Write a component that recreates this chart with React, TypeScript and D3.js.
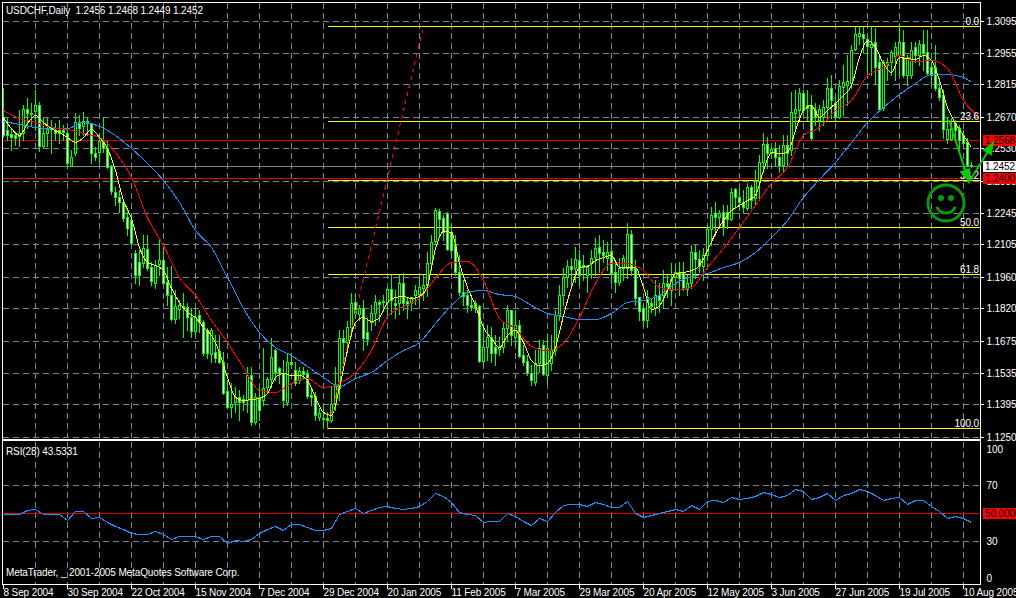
import * as d3 from "d3";
import { FC, useEffect, useRef } from "react";

// USDCHF daily, values in points (1.2456 = 12456)
const opens = [
  12669,12612,12594,12589,12585,12598,12705,12683,12696,12722,
  12541,12598,12621,12612,12612,12612,12598,12452,12510,12647,
  12629,12651,12643,12510,12514,12563,12532,12452,12337,12314,
  12292,12226,12212,12066,12026,12022,12084,12004,11933,12017,
  12035,11937,11880,11773,11818,11831,11826,11782,11720,11791,
  11760,11725,11618,11627,11631,11583,11454,11383,11405,11427,
  11418,11414,11525,11317,11427,11414,11472,11507,11636,11556,
  11534,11405,11583,11547,11503,11543,11534,11436,11432,11339,
  11334,11334,11326,11396,11467,11689,11671,11738,11849,11795,
  11822,11716,11760,11800,11849,11849,11849,11906,11844,11844,
  11933,11853,11844,11880,11884,11911,11924,12022,12119,12252,
  12221,12243,12159,12101,11982,11893,11880,11835,11826,11831,
  11587,11649,11693,11649,11640,11649,11733,11813,11693,11747,
  11614,11587,11534,11494,11578,11658,11525,11578,11636,11791,
  11880,11960,12008,11999,12035,12013,11968,12022,12048,12093,
  12070,12044,12075,11982,11937,11999,11999,12150,11999,11871,
  11822,11769,11844,11822,11880,11880,11933,11902,11960,11982,
  11982,11906,11933,12070,12039,12008,12057,12172,12243,12226,
  12248,12248,12217,12350,12314,12292,12266,12359,12310,12385,
  12470,12550,12510,12532,12492,12456,12545,12523,12687,12700,
  12776,12722,12722,12700,12656,12669,12714,12798,12731,12669,
  12802,12811,12820,12971,13028,13037,13015,12980,13002,12913,
  12709,12913,12913,12940,12944,13002,12855,12855,12980,12944,
  12993,12958,12891,12891,12798,12767,12572,12572,12643,12621,
  12589,12558,12456,
];
const closes = [
  12589,12589,12581,12576,12598,12705,12687,12687,12722,12541,
  12598,12616,12616,12598,12598,12603,12465,12492,12647,12621,
  12651,12643,12510,12492,12563,12532,12448,12341,12314,12292,
  12221,12177,12111,11968,11968,12088,12000,11942,12013,12035,
  11933,11880,11773,11831,11835,11826,11782,11720,11782,11760,
  11623,11623,11725,11600,11583,11445,11383,11396,11427,11405,
  11405,11525,11317,11427,11370,11467,11507,11605,11538,11534,
  11414,11583,11574,11490,11543,11530,11432,11427,11347,11356,
  11330,11326,11396,11476,11689,11671,11738,11844,11800,11822,
  11689,11684,11800,11849,11840,11853,11906,11858,11835,11933,
  11844,11835,11871,11902,11915,11924,12022,12115,12257,12217,
  12159,12084,12079,11982,11893,11875,11835,11826,11844,11587,
  11649,11693,11622,11622,11649,11733,11813,11702,11747,11609,
  11583,11534,11503,11578,11645,11529,11645,11636,11791,11880,
  11960,12008,11995,12039,11968,12004,12004,12044,12088,12066,
  12057,12070,11977,11937,11999,12044,12150,11991,11866,11809,
  11769,11871,11831,11880,11858,11933,11920,11951,11982,11955,
  11911,11933,12070,12039,12008,12057,12172,12235,12226,12243,
  12181,12217,12337,12314,12292,12270,12359,12301,12385,12470,
  12550,12510,12527,12492,12456,12545,12510,12691,12705,12776,
  12700,12709,12576,12669,12705,12714,12798,12745,12669,12807,
  12824,12829,12966,13037,13042,13020,12984,12993,12891,12705,
  12913,12900,12958,12980,13002,12855,12935,12966,12944,12993,
  12953,12864,12855,12798,12758,12616,12616,12621,12612,12567,
  12554,12456,12452,
];
const highs = [
  12798,12665,12621,12603,12700,12722,12754,12731,12789,12736,
  12665,12665,12656,12643,12656,12634,12625,12523,12687,12678,
  12691,12669,12643,12536,12589,12669,12563,12456,12359,12346,
  12301,12248,12239,12079,12079,12146,12146,12026,12035,12124,
  12088,12004,12008,11902,11858,11889,11844,11822,11822,11813,
  11769,11734,11734,11702,11702,11627,11503,11490,11472,11459,
  11436,11560,11560,11445,11472,11645,11516,11689,11640,11560,
  11592,11623,11623,11583,11560,11560,11547,11472,11450,11379,
  11392,11361,11472,11560,11725,11725,11764,11889,11889,11835,
  11858,11778,11835,11880,11858,11880,11915,11968,11902,11968,
  11977,11866,11871,11924,11955,11968,12070,12146,12266,12261,
  12235,12248,12190,12146,12057,11946,11902,11880,11858,11835,
  11747,11747,11738,11702,11694,11764,11835,11813,11813,11769,
  11658,11614,11569,11636,11680,11680,11702,11702,11813,11924,
  11999,12035,12044,12093,12079,12057,12013,12079,12133,12146,
  12124,12115,12124,12026,12044,12057,12199,12168,12035,11871,
  11835,11902,11866,11946,11933,11991,11968,12022,12013,12026,
  12026,11968,12101,12101,12079,12088,12190,12270,12292,12257,
  12279,12279,12355,12355,12355,12345,12377,12368,12434,12501,
  12598,12581,12536,12558,12545,12589,12589,12780,12789,12798,
  12789,12789,12767,12731,12722,12745,12842,12855,12767,12833,
  12900,12944,12989,13068,13068,13073,13033,13073,13064,12944,
  12922,12931,12966,13002,13082,13055,12944,13002,13002,13011,
  13055,13055,12913,12989,12842,12789,12665,12665,12656,12634,
  12612,12576,12468,
];
const lows = [
  12581,12567,12523,12545,12541,12567,12621,12634,12612,12518,
  12536,12541,12510,12567,12554,12567,12443,12452,12501,12589,
  12589,12589,12465,12479,12465,12514,12443,12328,12279,12248,
  12208,12146,12106,11933,11924,12004,11991,11924,11911,11968,
  11928,11835,11769,11756,11778,11694,11725,11694,11702,11716,
  11614,11600,11583,11583,11578,11441,11379,11339,11361,11326,
  11370,11361,11303,11308,11326,11392,11445,11472,11503,11490,
  11383,11392,11569,11481,11490,11512,11423,11392,11326,11326,
  11290,11290,11317,11370,11414,11578,11645,11698,11778,11769,
  11636,11658,11725,11747,11764,11808,11795,11795,11778,11795,
  11813,11778,11813,11840,11835,11858,11875,11991,12111,12146,
  12124,12079,12057,11968,11880,11835,11804,11813,11804,11583,
  11569,11592,11583,11569,11614,11627,11680,11658,11658,11605,
  11569,11525,11481,11481,11538,11525,11494,11547,11614,11769,
  11835,11915,11924,11937,11924,11946,11893,11955,11968,11982,
  12026,11991,11937,11893,11924,11946,11955,11968,11835,11769,
  11742,11738,11804,11791,11804,11822,11871,11835,11902,11880,
  11902,11880,11911,11955,11982,11946,12035,12101,12146,12177,
  12146,12177,12212,12266,12257,12248,12257,12266,12279,12301,
  12425,12443,12487,12456,12425,12425,12456,12501,12612,12665,
  12678,12656,12567,12634,12612,12634,12665,12665,12656,12665,
  12678,12722,12798,12966,12993,12958,12869,12855,12820,12700,
  12700,12833,12855,12833,12855,12847,12811,12842,12913,12900,
  12878,12855,12811,12789,12745,12576,12554,12567,12558,12523,
  12532,12452,12449,
];

// moving averages, sampled every few bars
const yellowStep = 2;
const yellowMa = [
  12669,12621,12589,12643,12678,12647,12621,12603,12581,12558,
  12581,12616,12581,12532,12434,12301,12221,12093,12026,12013,
  11991,11911,11849,11804,11782,11738,11702,11627,11516,11427,
  11414,11419,11423,11445,11516,11534,11525,11525,11503,11427,
  11361,11348,11472,11636,11760,11782,11764,11782,11849,11871,
  11875,11866,11875,11924,12088,12164,12159,12022,11915,11835,
  11738,11689,11649,11702,11725,11671,11592,11569,11578,11649,
  11791,11915,12004,12008,12035,12048,12057,12004,12004,12004,
  11915,11818,11835,11902,11977,11982,11991,12013,12079,12155,
  12212,12257,12279,12301,12323,12434,12514,12510,12514,12612,
  12700,12722,12669,12700,12731,12767,12811,12935,13011,12980,
  12909,12869,12935,12931,12926,12944,12922,12833,12714,12643,
  12589,12536,
];
const redStep = 4;
const redMa = [
  12700,12665,12647,12625,12616,12598,12581,12514,12403,12226,
  12102,11960,11880,11769,11671,11560,11459,11450,11490,11512,
  11472,11490,11538,11636,11786,11831,11866,11955,12026,12031,
  11946,11778,11734,11654,11636,11667,11782,11933,12022,12022,
  11991,11915,11906,11915,12004,12088,12181,12279,12377,12448,
  12589,12625,12700,12745,12855,12891,12944,12918,12922,12887,
  12745,12669,
];
const blueBars = [...d3.range(0, 241, 4), 242];
const blueMa = [
  12651,12638,12625,12621,12621,12647,12629,12589,12532,12465,
  12390,12292,12168,12093,11960,11822,11716,11649,11614,11565,
  11516,11476,11512,11538,11592,11636,11671,11756,11835,11893,
  11902,11884,11875,11835,11800,11786,11773,11773,11800,11849,
  11858,11880,11933,11964,11977,12004,12026,12070,12137,12212,
  12314,12394,12470,12558,12647,12714,12771,12820,12860,12860,
  12847,12824,
];

const rsiStep = 2;
const rsiValues = [
  49.3,49.3,49.3,52.3,52.8,49.5,49.3,49.3,45.3,51.6,
  51.2,46.7,47.2,43.5,41.1,38.8,36,35.5,35.5,37.2,
  35.5,32,33.9,33.7,34.1,31.4,34.1,33.7,29,30.9,
  30.4,31.4,36,39,40.7,38.3,42.5,42.3,40.2,38.3,
  38.3,39.5,49.3,51.2,53.5,50,52.3,54,55.1,53.5,
  53,53.5,55.1,58.2,64,61.7,57.7,50.7,49.1,48.8,
  43.5,44.2,44.6,50,48.1,44.2,41.8,46.5,44.2,50.5,
  55.4,56.3,56.3,55.1,57.7,56.5,54.2,54.2,58.2,50,
  47,48.8,50,51.6,52.8,51.2,55.8,52.8,58.6,59.3,
  57.5,61,59.8,60.5,61.7,64.7,63.3,61,62.8,66.8,
  65.6,59.8,61.2,64,59.3,62.6,64,66.8,65.6,62.8,
  58.9,60.5,61,56.3,58.9,59.3,55.1,51.6,46.5,47.7,
  46.5,43.5,
];

const priceTicks = [13095,12955,12815,12670,12530,12385,12245,12105,11960,11820,11675,11535,11395,11250];
const rsiTicks = [100, 70, 30, 0];
const dateLabels = [
  "8 Sep 2004","30 Sep 2004","22 Oct 2004","15 Nov 2004","7 Dec 2004","29 Dec 2004",
  "20 Jan 2005","11 Feb 2005","7 Mar 2005","29 Mar 2005","20 Apr 2005","12 May 2005",
  "3 Jun 2005","27 Jun 2005","19 Jul 2005","10 Aug 2005",
];
const dateBars = d3.range(0, 241, 16);

// fibonacci retracement drawn between these two prices, from bar 81
const fibHigh = 13073;
const fibLow = 11290;
const fibLevels = [0, 23.6, 38.2, 50, 61.8, 100];
const fibStartBar = 81;
const trendBars = [81, 105];
const trendPrices = [11282, 13073];
const redLevels = [12568, 12400];
const lastPrice = 12452;
const arrowBars = [236.5, 241.5, 247.7];
const arrowPrices = [12656, 12381, 12558];

const FONT = "'Liberation Sans', Arial, sans-serif";
const FONT_SIZE = 10;
const SPACING = -0.12;
const GRID = "#778899";

const App: FC = () => {
  const svgRef = useRef<SVGSVGElement>(null);

  useEffect(() => {
    const svg = d3.select(svgRef.current);
    svg.selectAll("*").remove();
    svg.attr("width", 1016).attr("height", 598);

    const x = d3.scaleLinear().domain([0, 240]).range([3, 963]);
    const y = d3.scaleLinear().domain([13095, 11250]).rangeRound([21, 437]);
    const rsiY = d3.scaleLinear().domain([100, 0]).rangeRound([442, 584]);
    const px = (i: number) => x(i) + 0.5;
    const py = (v: number) => y(v) + 0.5;

    svg.append("rect").attr("width", 1016).attr("height", 598).attr("fill", "#000");

    // grid
    const grid = svg.append("g").attr("stroke", GRID).attr("stroke-dasharray", "6,4").attr("shape-rendering", "crispEdges");
    const gridBars = d3.range(8, 241, 8);
    grid.selectAll(".v1").data(gridBars).enter().append("line")
      .attr("x1", px).attr("x2", px).attr("y1", 3).attr("y2", 438);
    grid.selectAll(".v2").data(gridBars).enter().append("line")
      .attr("x1", px).attr("x2", px).attr("y1", 442).attr("y2", 584);
    grid.selectAll(".h").data(priceTicks).enter().append("line")
      .attr("x1", 3).attr("x2", 980).attr("y1", py).attr("y2", py);
    grid.selectAll(".r").data([70, 30]).enter().append("line")
      .attr("x1", 3).attr("x2", 980).attr("y1", (d) => rsiY(d) + 0.5).attr("y2", (d) => rsiY(d) + 0.5);

    // horizontal levels behind the candles
    const crisp = svg.append("g").attr("shape-rendering", "crispEdges");
    crisp.append("line").attr("x1", 3).attr("x2", 980).attr("y1", py(lastPrice)).attr("y2", py(lastPrice)).attr("stroke", GRID);
    crisp.selectAll(".lvl").data(redLevels).enter().append("line")
      .attr("x1", 3).attr("x2", 980).attr("y1", py).attr("y2", py).attr("stroke", "#dc0000");
    crisp.selectAll(".fib").data(fibLevels).enter().append("line")
      .attr("x1", px(fibStartBar)).attr("x2", 980)
      .attr("y1", (d) => py(fibHigh - ((fibHigh - fibLow) * d) / 100))
      .attr("y2", (d) => py(fibHigh - ((fibHigh - fibLow) * d) / 100))
      .attr("stroke", "#ffff00");

    // candles
    const bars = d3.range(closes.length);
    const candles = svg.append("g").attr("shape-rendering", "crispEdges");
    candles.selectAll(".wick").data(bars).enter().append("line")
      .attr("x1", px).attr("x2", px)
      .attr("y1", (i) => y(highs[i])).attr("y2", (i) => y(lows[i]) + 1)
      .attr("stroke", "#00ff00");
    candles.selectAll(".body").data(bars).enter().append("rect")
      .attr("x", (i) => px(i) - 1)
      .attr("width", 2)
      .attr("y", (i) => py(Math.max(opens[i], closes[i])))
      .attr("height", (i) => Math.abs(y(opens[i]) - y(closes[i])))
      .attr("fill", (i) => (closes[i] >= opens[i] ? "#000" : "#fff"))
      .attr("stroke", "#00ff00");

    // trend line and moving averages
    const priceLine = d3.line<number[]>().x((d) => px(d[0])).y((d) => py(d[1]));
    svg.append("path")
      .attr("d", priceLine(trendBars.map((b, i) => [b, trendPrices[i]])))
      .attr("fill", "none").attr("stroke", "#ff0000").attr("stroke-dasharray", "4,4").attr("shape-rendering", "crispEdges");
    const smooth = d3.line<number[]>().x((d) => px(d[0])).y((d) => py(d[1])).curve(d3.curveMonotoneX);
    const maSeries: [number[][], string][] = [
      [blueMa.map((v, i) => [blueBars[i], v]), "#1e90ff"],
      [redMa.map((v, i) => [i * redStep, v]), "#ff0000"],
      [yellowMa.map((v, i) => [i * yellowStep, v]), "#ffff00"],
    ];
    maSeries.forEach(([pts, color]) => {
      svg.append("path").attr("d", smooth(pts)).attr("fill", "none").attr("stroke", color)
        .attr("shape-rendering", "crispEdges");
    });

    // RSI pane
    svg.append("line").attr("x1", 3).attr("x2", 980).attr("y1", rsiY(50) + 0.5).attr("y2", rsiY(50) + 0.5)
      .attr("stroke", "#dc0000").attr("shape-rendering", "crispEdges");
    svg.append("path")
      .attr("d", d3.line<number>().x((_, i) => px(i * rsiStep)).y((d) => rsiY(d) + 0.5)(rsiValues))
      .attr("fill", "none").attr("stroke", "#1e90ff").attr("shape-rendering", "crispEdges");

    // pane frames
    const frame = svg.append("g").attr("fill", "none").attr("stroke", "#fff").attr("shape-rendering", "crispEdges");
    frame.append("rect").attr("x", 2.5).attr("y", 2.5).attr("width", 978).attr("height", 436.5);
    frame.append("rect").attr("x", 2.5).attr("y", 440.5).attr("width", 978).attr("height", 144);

    // axes
    const styleAxis = (g: d3.Selection<SVGGElement, unknown, null, undefined>) => {
      g.select(".domain").remove();
      g.selectAll("line").attr("stroke", "#fff").attr("shape-rendering", "crispEdges");
      g.selectAll("text").attr("fill", "#fff").attr("font-family", FONT).attr("font-size", FONT_SIZE)
        .attr("letter-spacing", SPACING);
    };
    svg.append("g").attr("transform", "translate(980.5,0)")
      .call(d3.axisRight(y).tickValues(priceTicks).tickSize(3).tickPadding(3).tickFormat((d) => (+d / 10000).toFixed(4)))
      .call(styleAxis);
    const rsiAxis = svg.append("g").attr("transform", "translate(980.5,0)")
      .call(d3.axisRight(rsiY).tickValues(rsiTicks).tickSize(0).tickPadding(6))
      .call(styleAxis);
    // the 100 and 0 labels sit inside the pane
    rsiAxis.selectAll<SVGTextElement, number>("text")
      .attr("y", (d) => (d === 100 ? 7 : d === 0 ? -6 : 0));
    const dateAxis = svg.append("g").attr("transform", "translate(0,585)")
      .call(d3.axisBottom(x).tickValues(dateBars).tickSize(4).tickPadding(0).tickFormat((_, i) => dateLabels[i]));
    dateAxis.call(styleAxis);
    dateAxis.selectAll("text").attr("text-anchor", "start");

    // price labels on the axis
    const tag = (value: string, yy: number, bg: string) => {
      svg.append("rect").attr("x", 983).attr("y", yy - 5.5).attr("width", 33).attr("height", 11).attr("fill", bg);
      svg.append("text").attr("x", 985).attr("y", yy + 3.5).attr("fill", "#000")
        .attr("font-family", FONT).attr("font-size", FONT_SIZE).attr("letter-spacing", SPACING).text(value);
    };
    tag("1.2568", py(redLevels[0]), "#ff0000");
    tag("1.2452", py(lastPrice), "#fff");
    tag("1.2400", py(redLevels[1]), "#ff0000");
    tag("50.0000", rsiY(50) + 0.5, "#ff0000");

    // captions
    const label = (text: string, tx: number, ty: number, anchor = "start") =>
      svg.append("text").attr("x", tx).attr("y", ty).attr("fill", "#fff").attr("text-anchor", anchor)
        .attr("font-family", FONT).attr("font-size", FONT_SIZE).attr("letter-spacing", SPACING)
        .style("white-space", "pre").text(text);
    label("USDCHF,Daily  1.2456 1.2468 1.2449 1.2452", 6, 14);
    label("RSI(28) 43.5331", 6, 455);
    label("MetaTrader, _ 2001-2005 MetaQuotes Software Corp.", 6, 576);
    fibLevels.forEach((d) => {
      const text = d === 100 ? "100.0" : d.toFixed(1);
      label(text, 979, py(fibHigh - ((fibHigh - fibLow) * d) / 100) - 2, "end");
    });

    // hand drawn arrow
    const arrow = arrowBars.map((b, i) => [x(b), y(arrowPrices[i])]);
    const green = "#00cc00";
    svg.append("path").attr("d", d3.line()(arrow as [number, number][])).attr("fill", "none")
      .attr("stroke", green).attr("stroke-width", 2);
    const head = (tip: number[], from: number[]) => {
      const a = Math.atan2(tip[1] - from[1], tip[0] - from[0]);
      const pts = [-0.4, 0.4].map((o) => [tip[0] - 14 * Math.cos(a + o), tip[1] - 14 * Math.sin(a + o)]);
      svg.append("path").attr("d", `M${tip}L${pts[0]}L${pts[1]}Z`).attr("fill", green);
    };
    head(arrow[1], arrow[0]);
    head(arrow[2], arrow[1]);

    // smiley
    const smile = svg.append("g").attr("transform", "translate(946,203)").attr("stroke", "#0a9a0a").attr("fill", "none").attr("stroke-width", 3);
    smile.append("circle").attr("r", 18);
    smile.append("path").attr("d", d3.arc()({ innerRadius: 10, outerRadius: 10, startAngle: Math.PI * 0.62, endAngle: Math.PI * 1.38 }) as string);
    smile.selectAll(".eye").data([-5, 5]).enter().append("circle")
      .attr("cx", (d) => d).attr("cy", -5).attr("r", 3).attr("fill", "#0a9a0a").attr("stroke", "none");
  }, []);

  return <svg ref={svgRef} style={{ position: "absolute", left: 0, top: 0, display: "block" }} />;
};

export default App;
